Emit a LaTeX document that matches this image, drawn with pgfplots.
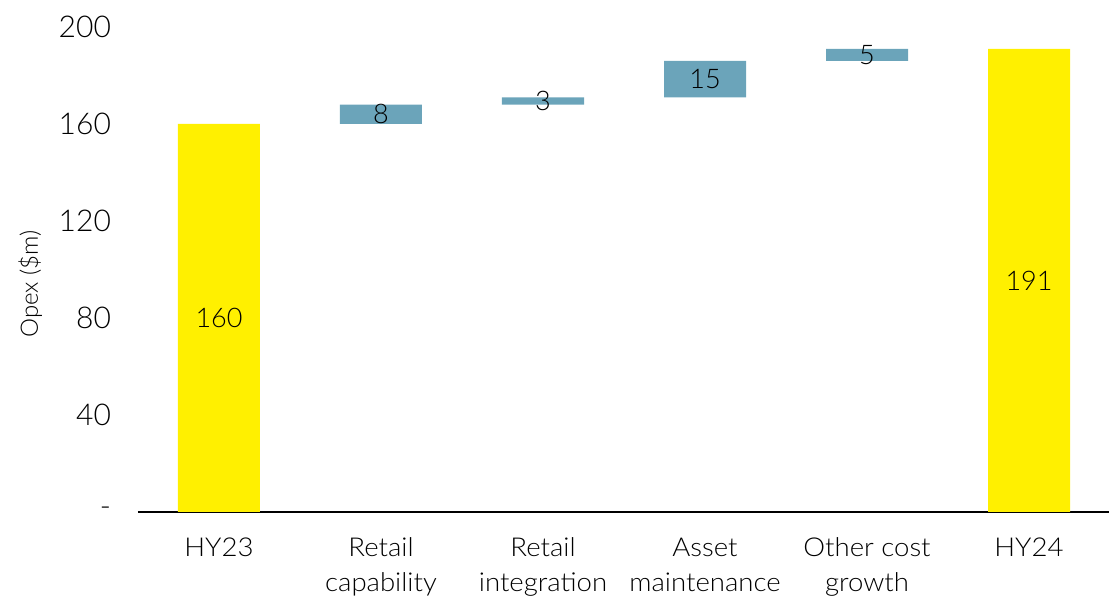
\documentclass[border=0pt]{standalone}
\usepackage{fontspec}
\setmainfont{Lato Light}
\newfontfamily\catfont{Lato Light}[FakeStretch=1.06]
\usepackage{pgfplots}
\pgfplotsset{compat=1.18}
\definecolor{ybar}{HTML}{FFF000}
\definecolor{bbar}{HTML}{6BA4BA}
\begin{document}
\begin{tikzpicture}
\useasboundingbox (-69pt,-42.5pt) rectangle (485.5pt,256pt);
\begin{axis}[
  scale only axis, width=486pt, height=242.5pt,
  xmin=-0.5, xmax=5.5, ymin=0, ymax=200,
  enlargelimits=false,
  ybar stacked, bar width=41pt,
  axis x line*=bottom, axis y line*=left,
  x axis line style={-, black, line width=0.9pt},
  y axis line style={draw=none},
  major tick length=0pt,
  /pgf/number format/assume math mode=true,
  xtick={0,...,5},
  xticklabels={HY23,{Retail\\capability},{Retail\\integration},{Asset\\maintenance},{Other cost\\growth},HY24},
  xticklabel style={align=center, font=\catfont\fontsize{13}{17.5}\selectfont, yshift=-9.5pt},
  ytick={0,40,80,120,160,200},
  yticklabels={\mbox{-},40,80,120,160,200},
  yticklabel style={font=\fontsize{15}{17}\selectfont, xshift=-10pt},
  every axis y label/.style={at={(axis description cs:-0.111,0.47)}, rotate=90, anchor=center, font=\fontsize{12}{14}\selectfont},
  ylabel={Opex (\$m)},
]
\addplot[draw=none, fill=none] coordinates {(0,0) (1,160) (2,168) (3,171) (4,186) (5,0)};
\addplot[draw=none, fill=ybar] coordinates {(0,160) (1,0) (2,0) (3,0) (4,0) (5,191)};
\addplot[draw=none, fill=bbar] coordinates {(0,0) (1,8) (2,3) (3,15) (4,5) (5,0)};
\end{axis}
\begin{axis}[
  scale only axis, width=486pt, height=242.5pt,
  xmin=-0.5, xmax=5.5, ymin=0, ymax=200,
  enlargelimits=false, hide axis,
]
\addplot[only marks, mark=*, mark size=0pt, mark options={draw=none, fill=none},
  nodes near coords, point meta=explicit symbolic,
  every node near coord/.style={anchor=center, font=\fontsize{13.5}{16}\selectfont, text=black}]
  coordinates {(0,80)[160] (1,164)[8] (2,169.5)[3] (3,178.5)[15] (4,188.5)[5] (5,95.5)[191]};
\end{axis}
\end{tikzpicture}
\end{document}
